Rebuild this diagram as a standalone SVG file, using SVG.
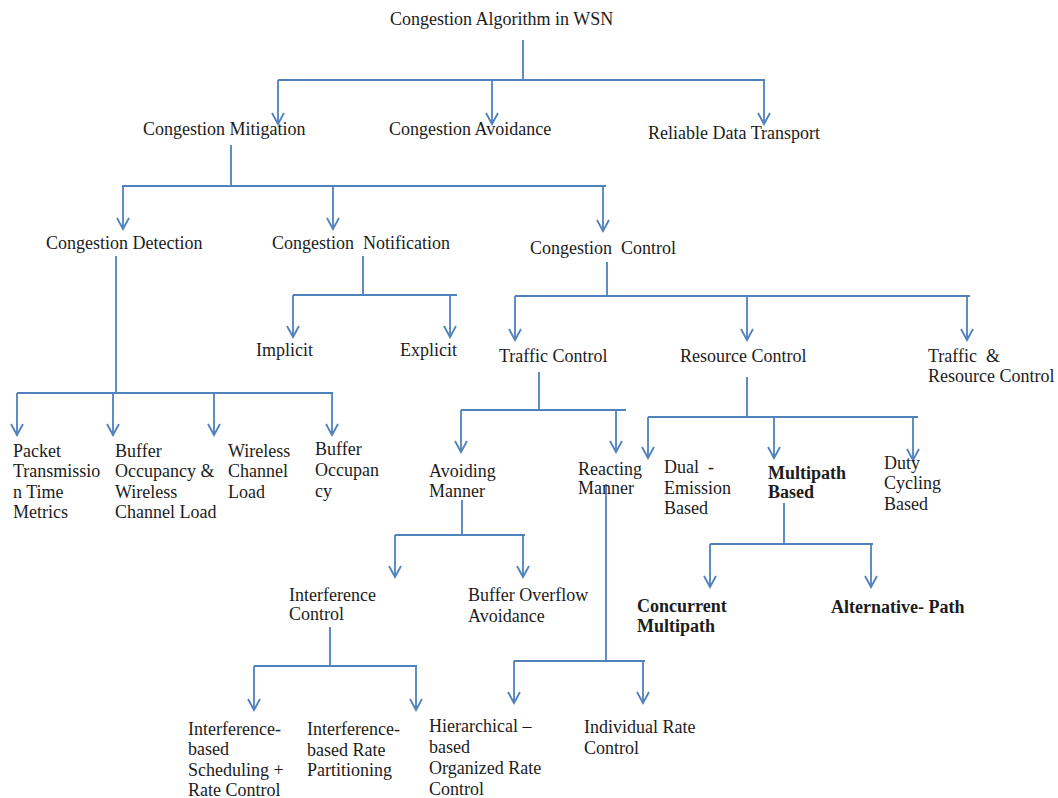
<svg xmlns="http://www.w3.org/2000/svg" width="1058" height="798" viewBox="0 0 1058 798">
<style>
text{font-family:"Liberation Serif","Times New Roman",serif;font-size:18px;fill:#1c1c1c}
.b{font-weight:bold}
.ln{fill:none;stroke:#4F81BD;stroke-width:1.8}
.ar{fill:none;stroke:#4F81BD;stroke-width:1.8;marker-end:url(#v)}
</style>
<defs>
<marker id="v" markerUnits="userSpaceOnUse" markerWidth="16" markerHeight="16" viewBox="-13 -8 16 16" refX="0" refY="0" orient="auto" overflow="visible">
<path d="M-11,-6 L0,0 L-11,6" fill="none" stroke="#4F81BD" stroke-width="1.8"/>
</marker>
</defs>
<rect width="1058" height="798" fill="#ffffff"/>
<g id="connectors">
<path class="ln" d="M523,40 V80 M278,80 H765"/>
<path class="ar" d="M278,80 V124"/>
<path class="ar" d="M492,80 V124"/>
<path class="ar" d="M764,80 V124"/>
<path class="ln" d="M231,145 V186 M122,186 H606"/>
<path class="ar" d="M123,186 V229"/>
<path class="ar" d="M333,186 V229"/>
<path class="ar" d="M603,186 V231"/>
<path class="ln" d="M116,256 V393 M17,393 H333"/>
<path class="ar" d="M17,393 V435"/>
<path class="ar" d="M113,393 V435"/>
<path class="ar" d="M214,393 V435"/>
<path class="ar" d="M332,393 V435"/>
<path class="ln" d="M363,256 V295 M293,295 H457"/>
<path class="ar" d="M293,295 V337"/>
<path class="ar" d="M450,295 V337"/>
<path class="ln" d="M607,262 V296 M515,296 H970"/>
<path class="ar" d="M515,296 V340"/>
<path class="ar" d="M747,296 V340"/>
<path class="ar" d="M967,296 V340"/>
<path class="ln" d="M539,372 V410 M461,410 H626"/>
<path class="ar" d="M461,410 V452"/>
<path class="ar" d="M616,410 V452"/>
<path class="ln" d="M747,377 V417 M648,417 H918"/>
<path class="ar" d="M648,417 V458"/>
<path class="ar" d="M774,417 V458"/>
<path class="ar" d="M913,417 V460"/>
<path class="ln" d="M462,500 V535 M395,535 H525"/>
<path class="ar" d="M395,535 V577"/>
<path class="ar" d="M523,535 V577"/>
<path class="ln" d="M606,484 V661 M514,661 H645"/>
<path class="ar" d="M514,661 V703"/>
<path class="ar" d="M643,661 V703"/>
<path class="ln" d="M784,503 V544 M710,544 H873"/>
<path class="ar" d="M710,544 V587"/>
<path class="ar" d="M871,544 V587"/>
<path class="ln" d="M330,627 V666 M254,666 H417"/>
<path class="ar" d="M254,666 V710"/>
<path class="ar" d="M416,666 V710"/>
</g>
<g id="n-root"><text x="390" y="25">Congestion Algorithm in WSN</text></g>
<g id="n-mitigation"><text x="143" y="135">Congestion Mitigation</text></g>
<g id="n-avoidance"><text x="389" y="135">Congestion Avoidance</text></g>
<g id="n-reliable"><text x="648" y="139">Reliable Data Transport</text></g>
<g id="n-detection"><text x="46" y="249">Congestion Detection</text></g>
<g id="n-notification"><text x="272" y="249">Congestion&#160; Notification</text></g>
<g id="n-control"><text x="530" y="254">Congestion&#160; Control</text></g>
<g id="n-implicit"><text x="256" y="356">Implicit</text></g>
<g id="n-explicit"><text x="400" y="356">Explicit</text></g>
<g id="n-traffic"><text x="499" y="362">Traffic Control</text></g>
<g id="n-resource"><text x="680" y="362">Resource Control</text></g>
<g id="n-trafres"><text x="928" y="362">Traffic&#160; &amp;</text><text x="928" y="382">Resource Control</text></g>
<g id="n-packet"><text x="13" y="457">Packet</text><text x="13" y="477">Transmissio</text><text x="13" y="498">n Time</text><text x="13" y="518">Metrics</text></g>
<g id="n-bufwl"><text x="115" y="457">Buffer</text><text x="115" y="477">Occupancy &amp;</text><text x="115" y="498">Wireless</text><text x="115" y="518">Channel Load</text></g>
<g id="n-wireless"><text x="228" y="457">Wireless</text><text x="228" y="477">Channel</text><text x="228" y="498">Load</text></g>
<g id="n-buffer"><text x="315" y="455">Buffer</text><text x="315" y="476">Occupan</text><text x="315" y="497">cy</text></g>
<g id="n-avoiding"><text x="429" y="477">Avoiding</text><text x="429" y="497">Manner</text></g>
<g id="n-reacting"><text x="578" y="475">Reacting</text><text x="578" y="494">Manner</text></g>
<g id="n-dual"><text x="664" y="473">Dual&#160; -</text><text x="664" y="494">Emission</text><text x="664" y="514">Based</text></g>
<g id="n-multipath"><text class="b" x="768" y="479">Multipath</text><text class="b" x="768" y="498">Based</text></g>
<g id="n-duty"><text x="884" y="469">Duty</text><text x="884" y="489">Cycling</text><text x="884" y="510">Based</text></g>
<g id="n-interference"><text x="289" y="601">Interference</text><text x="289" y="620">Control</text></g>
<g id="n-bufoverflow"><text x="468" y="601">Buffer Overflow</text><text x="468" y="622">Avoidance</text></g>
<g id="n-concurrent"><text class="b" x="637" y="612">Concurrent</text><text class="b" x="637" y="632">Multipath</text></g>
<g id="n-alternative"><text class="b" x="831" y="613">Alternative- Path</text></g>
<g id="n-ibsched"><text x="188" y="735">Interference-</text><text x="188" y="755">based</text><text x="188" y="776">Scheduling +</text><text x="188" y="796">Rate Control</text></g>
<g id="n-ibrate"><text x="307" y="735">Interference-</text><text x="307" y="756">based Rate</text><text x="307" y="776">Partitioning</text></g>
<g id="n-hier"><text x="429" y="732">Hierarchical –</text><text x="429" y="753">based</text><text x="429" y="774">Organized Rate</text><text x="429" y="795">Control</text></g>
<g id="n-individual"><text x="584" y="733">Individual Rate</text><text x="584" y="754">Control</text></g>
</svg>
